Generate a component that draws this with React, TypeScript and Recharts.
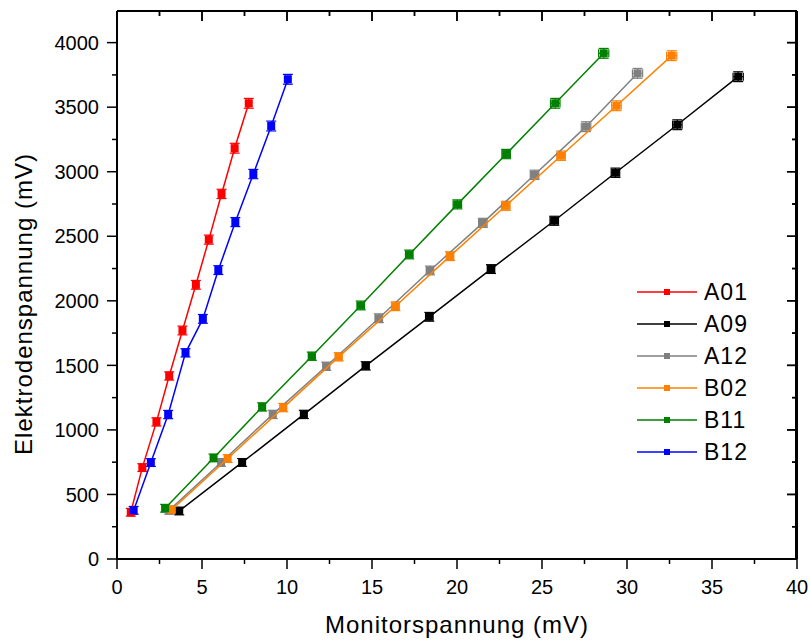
import {
  ErrorBar,
  Legend,
  ReferenceLine,
  Scatter,
  ScatterChart,
  XAxis,
  YAxis,
  ZAxis,
} from "recharts";

const font = "'Liberation Sans', Arial, sans-serif";

// Monitorspannung (mV)
const xA01 = [0.81, 1.49, 2.32, 3.07, 3.85, 4.64, 5.4, 6.15, 6.92, 7.75];
const xA09 = [3.66, 7.36, 10.99, 14.63, 18.37, 22.0, 25.72, 29.32, 32.96, 36.54];
const xA12 = [3.07, 6.12, 9.16, 12.31, 15.4, 18.41, 21.52, 24.56, 27.59, 30.62];
const xB02 = [3.22, 6.51, 9.78, 13.04, 16.38, 19.59, 22.87, 26.12, 29.38, 32.63];
const xB11 = [2.83, 5.68, 8.54, 11.46, 14.34, 17.19, 20.02, 22.89, 25.78, 28.63];
const xB12 = [0.98, 1.99, 3.01, 4.03, 5.05, 5.96, 6.96, 8.02, 9.07, 10.05];

// Elektrodenspannung (mV)
const yA01 = [362, 708, 1062, 1418, 1770, 2124, 2474, 2828, 3182, 3530];
const yA09 = [372, 748, 1120, 1496, 1876, 2246, 2620, 2992, 3364, 3736];
const yA12 = [377, 748, 1120, 1493, 1865, 2235, 2604, 2976, 3349, 3762];
const yB02 = [382, 778, 1173, 1566, 1958, 2346, 2736, 3124, 3511, 3899];
const yB11 = [393, 783, 1178, 1571, 1964, 2359, 2747, 3137, 3530, 3917];
const yB12 = [377, 747, 1119, 1597, 1860, 2238, 2610, 2982, 3354, 3716];

// Fehler
const exSmall = [0.1, 0.1, 0.1, 0.1, 0.12, 0.12, 0.12, 0.12, 0.15, 0.15];
const exLarge = [0.12, 0.15, 0.18, 0.2, 0.22, 0.22, 0.25, 0.25, 0.28, 0.3];
const eyAll = [30, 30, 32, 32, 34, 34, 35, 36, 38, 38];

const xTicks = [0, 2.5, 5, 7.5, 10, 12.5, 15, 17.5, 20, 22.5, 25, 27.5, 30, 32.5, 35, 37.5, 40];
const yTicks = [0, 250, 500, 750, 1000, 1250, 1500, 1750, 2000, 2250, 2500, 2750, 3000, 3250, 3500, 3750, 4000];
const xMax = 40;
const yMax = 4245;

const toPoints = (xs: number[], ys: number[], ex: number[]) =>
  xs.map((x, i) => ({ x, y: ys[i], ex: ex[i], ey: eyAll[i] }));

const series = [
  { name: "A01", color: "#ff0000", data: toPoints(xA01, yA01, exSmall) },
  { name: "A09", color: "#000000", data: toPoints(xA09, yA09, exLarge) },
  { name: "A12", color: "#808080", data: toPoints(xA12, yA12, exLarge) },
  { name: "B02", color: "#ff8000", data: toPoints(xB02, yB02, exLarge) },
  { name: "B11", color: "#008000", data: toPoints(xB11, yB11, exLarge) },
  { name: "B12", color: "#0000ff", data: toPoints(xB12, yB12, exSmall) },
];

// plot box (px)
const PLOT_LEFT = 117;
const PLOT_TOP = 11;
const PLOT_RIGHT = 797;
const PLOT_BOTTOM = 559;

const BottomTick = (props: any) => {
  const { x, y, payload } = props;
  const major = payload.value % 5 === 0;
  const len = major ? 10 : 5;
  return (
    <g>
      <line x1={x} y1={y} x2={x} y2={y + len} stroke="#000" strokeWidth={1.5} />
      <line x1={x} y1={PLOT_TOP} x2={x} y2={PLOT_TOP + len} stroke="#000" strokeWidth={1.5} />
      {major && (
        <text x={x} y={y + 35} textAnchor="middle" fontSize={20} fontFamily={font} fill="#000">
          {payload.value}
        </text>
      )}
    </g>
  );
};

const LeftTick = (props: any) => {
  const { x, y, payload } = props;
  const major = payload.value % 500 === 0;
  const len = major ? 10 : 5;
  return (
    <g>
      <line x1={x - len} y1={y} x2={x} y2={y} stroke="#000" strokeWidth={1.5} />
      <line x1={PLOT_RIGHT - len} y1={y} x2={PLOT_RIGHT} y2={y} stroke="#000" strokeWidth={1.5} />
      {major && (
        <text x={x - 18} y={y} dy="0.36em" textAnchor="end" fontSize={20} fontFamily={font} fill="#000">
          {payload.value}
        </text>
      )}
    </g>
  );
};

// top and right frame with inward ticks, laid over the chart
const Frame = () => {
  const w = PLOT_RIGHT - PLOT_LEFT;
  const h = PLOT_BOTTOM - PLOT_TOP;
  return (
    <>
      <div
        style={{
          position: "absolute",
          left: PLOT_LEFT,
          top: PLOT_TOP - 1,
          width: w - PLOT_LEFT * 0 + 1 - 1,
          height: h + 1,
          borderTop: "2px solid #000",
          borderRight: "2px solid #000",
          boxSizing: "border-box",
          pointerEvents: "none",
          zIndex: 6,
        }}
      />
      <svg
        width={810}
        height={642}
        style={{ position: "absolute", left: 0, top: 0, pointerEvents: "none", zIndex: 5 }}
      >
        {xTicks.map((v) => {
          const px = PLOT_LEFT + (v / xMax) * w;
          const len = v % 5 === 0 ? 10 : 5;
          return <line key={`t${v}`} x1={px} y1={PLOT_TOP} x2={px} y2={PLOT_TOP + len} stroke="#000" strokeWidth={1.5} />;
        })}
        {yTicks.map((v) => {
          const py = PLOT_BOTTOM - (v / yMax) * h;
          const len = v % 500 === 0 ? 10 : 5;
          return <line key={`r${v}`} x1={PLOT_RIGHT - len} y1={py} x2={PLOT_RIGHT} y2={py} stroke="#000" strokeWidth={1.5} />;
        })}
      </svg>
    </>
  );
};

const renderLegend = (props: any) => (
  <div style={{ fontFamily: font, fontSize: 23, letterSpacing: 1 }}>
    {props.payload.map((e: any) => (
      <div key={e.value} style={{ display: "flex", alignItems: "center", height: 32 }}>
        <svg width={62} height={10}>
          <line x1={0} y1={5} x2={60} y2={5} stroke={e.color} strokeWidth={1.5} />
          <rect x={27} y={2} width={6} height={6} fill={e.color} />
        </svg>
        <span style={{ marginLeft: 5 }}>{e.value}</span>
      </div>
    ))}
  </div>
);

const axisLine = { stroke: "#000", strokeWidth: 2 };

export default function App() {
  return (
    <div style={{ position: "absolute", left: 0, top: 0, width: 810, height: 642, background: "#fff" }}>
      <ScatterChart
        width={810}
        height={642}
        margin={{ top: PLOT_TOP, right: 810 - PLOT_RIGHT, bottom: 0, left: 0 }}
      >
        <XAxis
          dataKey="x"
          type="number"
          domain={[0, xMax]}
          ticks={xTicks}
          interval={0}
          height={642 - PLOT_BOTTOM}
          tickSize={0}
          tickMargin={0}
          tickLine={false}
          axisLine={axisLine}
          tick={<BottomTick />}
          label={{
            value: "Monitorspannung (mV)",
            position: "insideBottom",
            offset: 9,
            style: { fontFamily: font, fontSize: 24, letterSpacing: 1, fill: "#000" },
          }}
        />
        <YAxis
          dataKey="y"
          type="number"
          domain={[0, yMax]}
          ticks={yTicks}
          interval={0}
          width={PLOT_LEFT}
          tickSize={0}
          tickMargin={0}
          tickLine={false}
          axisLine={axisLine}
          tick={<LeftTick />}
          label={{
            content: (p: any) => {
              const cx = p.viewBox.x + 32;
              const cy = p.viewBox.y + p.viewBox.height / 2 + 19;
              return (
                <text
                  x={cx}
                  y={cy}
                  transform={`rotate(-90 ${cx} ${cy})`}
                  textAnchor="middle"
                  fontFamily={font}
                  fontSize={24}
                  letterSpacing={1}
                  fill="#000"
                >
                  Elektrodenspannung (mV)
                </text>
              );
            },
          }}
        />
        <ZAxis range={[50, 50]} />
        <ReferenceLine y={yMax} stroke="#000" strokeWidth={2} />
        <ReferenceLine x={xMax} stroke="#000" strokeWidth={2} />
        <Legend
          layout="vertical"
          align="center"
          verticalAlign="middle"
          content={renderLegend}
          wrapperStyle={{ left: 637, top: 276, width: "auto" }}
        />
        {series.map((s) => (
          <Scatter
            key={s.name}
            name={s.name}
            data={s.data}
            fill={s.color}
            line={{ stroke: s.color, strokeWidth: 1.5 }}
            shape="square"
            isAnimationActive={false}
          >
            <ErrorBar dataKey="ey" direction="y" width={5} stroke={s.color} strokeWidth={1.2} />
            <ErrorBar dataKey="ex" direction="x" width={4} stroke={s.color} strokeWidth={1.2} />
          </Scatter>
        ))}
      </ScatterChart>
      <Frame />
    </div>
  );
}
